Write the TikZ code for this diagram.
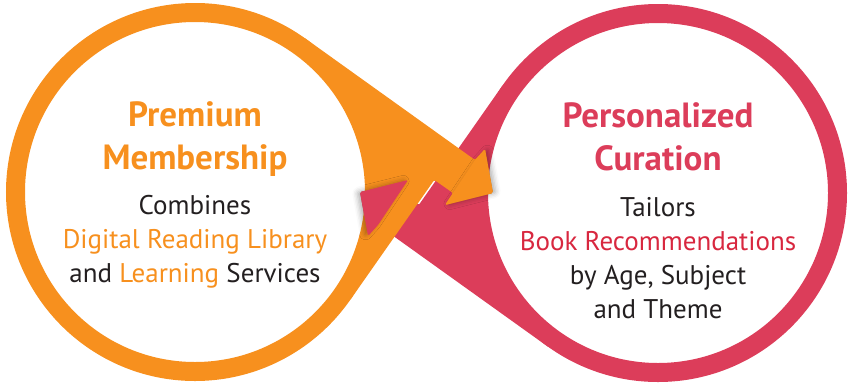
\documentclass[tikz,border=0pt]{standalone}
\usepackage{fontspec}
\setmainfont{PT Sans}
\usetikzlibrary{shadows.blur}

\definecolor{mborange}{HTML}{F7901E}
\definecolor{curred}{HTML}{DC3D5A}
\definecolor{recred}{HTML}{D8273F}
\definecolor{bodygrey}{HTML}{231F20}

\tikzset{
    ringline/.style={line width=19pt},
    looptitle/.style={anchor=north, inner sep=0pt, align=center,
        font=\bfseries\fontsize{35}{43}\selectfont},
    loopbody/.style={anchor=north, inner sep=0pt, align=center, text=bodygrey,
        font=\fontsize{27}{34}\selectfont},
    headshadow/.style={blur shadow={shadow xshift=#1, shadow yshift=0pt,
        shadow blur radius=5pt, shadow opacity=30}},
}

\begin{document}
\begin{tikzpicture}[x=1pt,y=-1pt]
    \useasboundingbox (0,0) rectangle (853,389);

    % orange loop, left
    \coordinate (oT)   at (303.5,37.2);
    \coordinate (oUi)  at (475,160);
    \coordinate (oUb)  at (485,149);
    \coordinate (oTip) at (493,193);
    \coordinate (oLb)  at (445,205);
    \coordinate (oLi)  at (453,193);
    \coordinate (oX)   at (434.3,179.9);
    \coordinate (oS)   at (349.8,300.5);
    % red loop, right (turned half round)
    \coordinate (rT)   at (549.5,347.8);
    \coordinate (rUi)  at (378,225);
    \coordinate (rUb)  at (368,236);
    \coordinate (rTip) at (360,192);
    \coordinate (rLb)  at (408,180);
    \coordinate (rLi)  at (400,192);
    \coordinate (rX)   at (418.7,205.1);
    \coordinate (rS)   at (503.2,84.5);

    \fill[curred, rounded corners=1.5pt] (rT) -- (rUi) -- (rUb) -- (rTip) -- (rLb) -- (rLi) -- (rX) -- (rS)
        -- ([shift={(658,193)}]215:180) arc[start angle=215, end angle=125, radius=180] -- cycle;
    \draw[curred, ringline] (658,193) circle[radius=179.5];

    \fill[mborange, rounded corners=1.5pt] (oT) -- (oUi) -- (oUb) -- (oTip) -- (oLb) -- (oLi) -- (oX) -- (oS)
        -- ([shift={(195,192)}]35:180) arc[start angle=35, end angle=-55, radius=180] -- cycle;
    \draw[mborange, ringline] (195,192) circle[radius=179.5];

    % heads on top
    \fill[curred, rounded corners=1.5pt, headshadow=-3pt]
        (rUi) -- (rUb) -- (rTip) -- (rLb) -- (rLi) -- cycle;
    \fill[mborange, rounded corners=1.5pt, headshadow=3pt]
        (oUi) -- (oUb) -- (oTip) -- (oLb) -- (oLi) -- cycle;

    % texts
    \node[looptitle, text=mborange] (premium) at (195,101) {Premium\\Membership};
    \node[loopbody] (combines) at (195,195)
        {Combines\\{\color{mborange}Digital Reading Library}\\and {\color{mborange}Learning} Services};

    \node[looptitle, text=curred] (personal) at (658,102) {Personalized\\Curation};
    \node[loopbody] (tailors) at (658,197)
        {Tailors\\{\color{recred}Book Recommendations}\\by Age, Subject\\and Theme};
\end{tikzpicture}
\end{document}
